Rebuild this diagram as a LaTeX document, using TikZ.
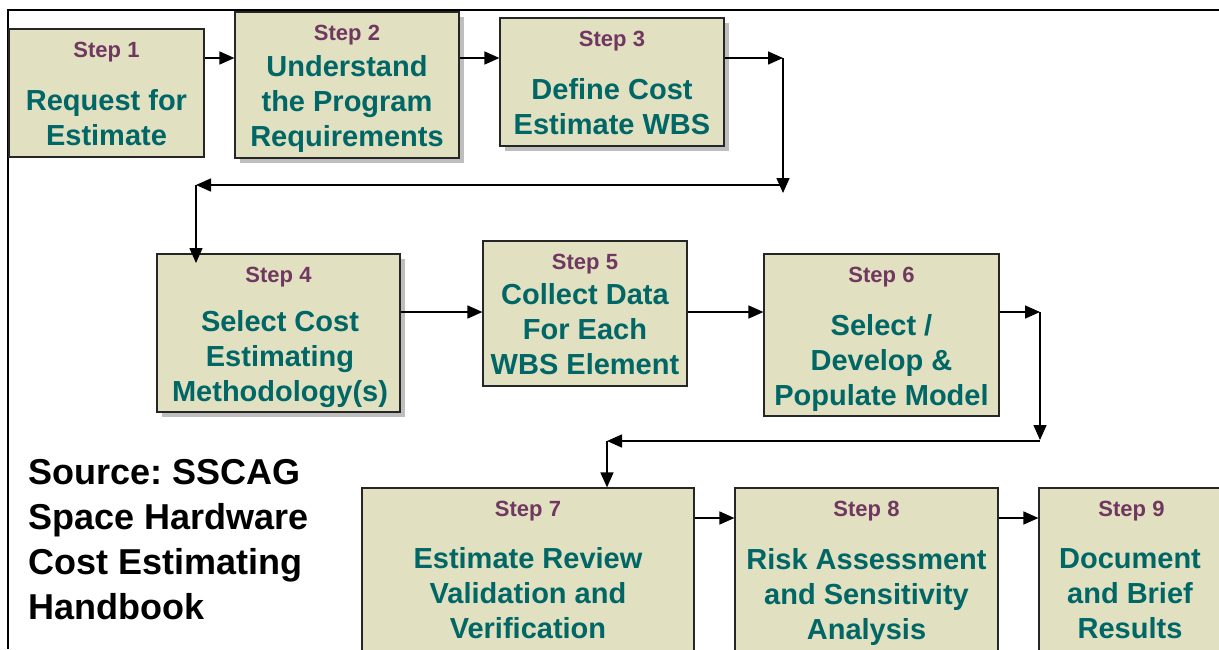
\documentclass[tikz,border=0pt]{standalone}
\usepackage{fontspec}
\setmainfont{Liberation Sans}
\usetikzlibrary{arrows.meta,shadows}
\frenchspacing

\definecolor{boxfill}{RGB}{225,224,192}
\definecolor{tagcol}{RGB}{112,56,96}
\definecolor{bodycol}{RGB}{0,102,102}
\definecolor{shadecol}{RGB}{190,190,190}

\begin{document}
\begin{tikzpicture}[x=1pt,y=-1pt,
  stepbox/.style={draw=black!85, line width=1.2pt, fill=boxfill, inner sep=0pt},
  shadowed/.style={drop shadow={shadow xshift=5pt,shadow yshift=-5pt,fill=shadecol,opacity=1}},
  steptag/.style={anchor=base, inner sep=0pt, text=tagcol, font=\fontsize{22}{26}\selectfont\bfseries},
  stepbody/.style={align=center, inner sep=0pt, text=bodycol, font=\fontsize{29}{35}\selectfont\bfseries},
  flow/.style={line width=1.5pt, -{Triangle[length=15pt,width=13pt]}}]

\useasboundingbox (0,0) rectangle (1219,649);

%frame
\coordinate (fr) at (1219,10);
\coordinate (fc) at (8,10);
\coordinate (fb) at (8,649);
\draw [line width=1.5pt] (fr)--(fc)--(fb);

%boxes
\node[stepbox, minimum width=195pt, minimum height=128pt]           (s1) at (106.5,93)  {};
\node[stepbox, shadowed, minimum width=224pt, minimum height=146pt] (s2) at (347,85)    {};
\node[stepbox, shadowed, minimum width=224pt, minimum height=128pt] (s3) at (612,82)    {};
\node[stepbox, shadowed, minimum width=243pt, minimum height=158pt] (s4) at (278.5,333) {};
\node[stepbox, minimum width=204pt, minimum height=145pt]           (s5) at (585,313.5) {};
\node[stepbox, minimum width=235pt, minimum height=162pt]           (s6) at (881.5,335) {};
\node[stepbox, minimum width=332pt, minimum height=192pt]           (s7) at (528,584)   {};
\node[stepbox, minimum width=263pt, minimum height=192pt]           (s8) at (866.5,584) {};
\node[stepbox, minimum width=185pt, minimum height=192pt]           (s9) at (1131.5,584){};

%step tags
\foreach \n in {1,...,9}
  \node[steptag] (s\n tag) at ([yshift=-29pt]s\n.north) {Step \n};

%step texts
\node[stepbody] (s1txt) at (106.5,117.5) {Request for\\Estimate};
\node[stepbody] (s2txt) at (347,104)     {Understand\\the Program\\Requirements};
\node[stepbody] (s3txt) at (612,106.5)   {Define Cost\\Estimate WBS};
\node[stepbody] (s4txt) at (280,359.5)   {Select Cost\\Estimating\\Methodology(s)};
\node[stepbody] (s5txt) at (585,329)     {Collect Data\\For Each\\WBS Element};
\node[stepbody] (s6txt) at (881.5,363)   {Select /\\Develop \&\\Populate Model};
\node[stepbody] (s7txt) at (528,593.5)   {Estimate Review\\Validation and\\Verification};
\node[stepbody] (s8txt) at (866.5,596.5) {Risk Assessment\\and Sensitivity\\Analysis};
\node[stepbody] (s9txt) at (1130,593.5)  {Document\\and Brief\\Results};

%source
\node[anchor=west, align=left, inner sep=0pt, font=\fontsize{36}{45}\selectfont\bfseries]
  (src) at (28,539.5) {Source: SSCAG\\Space Hardware\\Cost Estimating\\Handbook};

%connectors
\coordinate (row1) at (0,58);
\coordinate (row2) at (0,312);
\coordinate (row3) at (0,518);
%
\coordinate (c1)  at (783,58);
\coordinate (c2)  at (783,193);
\coordinate (c3)  at (783,185);
\coordinate (c4)  at (196,185);
\coordinate (c5)  at (196,263);
%
\coordinate (c6)  at (1040,312);
\coordinate (c7)  at (1040,440);
\coordinate (c8)  at (1040,441);
\coordinate (c9)  at (607,441);

\draw[flow] (s1.east |- row1) -- (s2.west |- row1);
\draw[flow] (s2.east |- row1) -- (s3.west |- row1);
\draw[flow] (s3.east |- row1) -- (c1);
\draw[flow] (c1) -- (c2);
\draw[flow] (c3) -- (c4);
\draw[flow] (c4) -- (c5);
%
\draw[flow] (s4.east |- row2) -- (s5.west |- row2);
\draw[flow] (s5.east |- row2) -- (s6.west |- row2);
\draw[flow] (s6.east |- row2) -- (c6);
\draw[flow] (c6) -- (c7);
\draw[flow] (c8) -- (c9);
\draw[flow] (c9) -- (s7.north -| c9);
%
\draw[flow] (s7.east |- row3) -- (s8.west |- row3);
\draw[flow] (s8.east |- row3) -- (s9.west |- row3);

\end{tikzpicture}
\end{document}
